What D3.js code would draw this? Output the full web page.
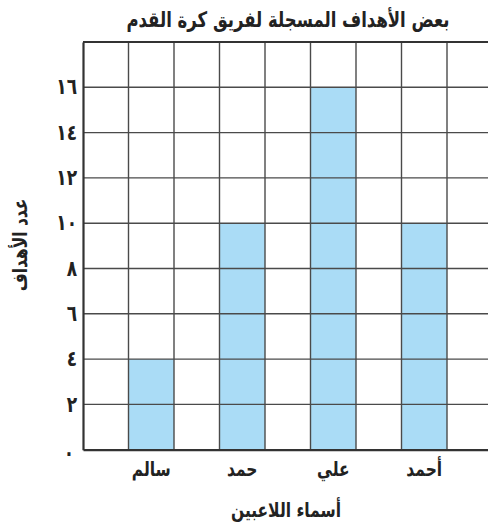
<!DOCTYPE html>
<html><head><meta charset="utf-8">
<script src="https://cdn.jsdelivr.net/npm/d3@7"></script>
<style>body{margin:0;background:#fff;} svg{display:block;}</style>
</head><body>
<svg id="c" width="488" height="532"></svg>
<script>
const players = ["سالم", "حمد", "علي", "أحمد"];
const goals = [4, 10, 16, 10];
const yTicks = [0, 2, 4, 6, 8, 10, 12, 14, 16];
const yTickLabels = ["٠", "٢", "٤", "٦", "٨", "١٠", "١٢", "١٤", "١٦"];
const chartTitle = "بعض الأهداف المسجلة لفريق كرة القدم";
const xTitle = "أسماء اللاعبين";
const yTitle = "عدد الأهداف";

(function () {
const svg = d3.select("#c");
const L = 83, R = 492.5, T = 42, B = 449.7;
const font = "'DejaVu Sans', sans-serif";
const S = 1.3; // vertical stretch of glyphs

const x = d3.scaleBand().domain(players).range([L, R]).paddingInner(0.5).paddingOuter(0.5);
const y = d3.scaleLinear().domain([0, 18]).range([B, T]);
const gridX = d3.scaleLinear().domain([0, 9]).range([L, R]);

const g = svg.append("g");
g.selectAll("rect.bar").data(players).enter().append("rect")
  .attr("class", "bar")
  .attr("x", d => x(d))
  .attr("width", x.bandwidth())
  .attr("y", (d, i) => y(goals[i]))
  .attr("height", (d, i) => y(0) - y(goals[i]))
  .attr("fill", "#aadcf6");

g.selectAll("line.h").data(d3.range(2, 18, 2)).enter().append("line")
  .attr("x1", L).attr("x2", R)
  .attr("y1", d => y(d)).attr("y2", d => y(d))
  .attr("stroke", "#4a4a4a").attr("stroke-width", 1.4);
g.selectAll("line.v").data(d3.range(1, 10)).enter().append("line")
  .attr("x1", d => gridX(d)).attr("x2", d => gridX(d))
  .attr("y1", T).attr("y2", B)
  .attr("stroke", "#4a4a4a").attr("stroke-width", 1.4);
g.append("line").attr("x1", L).attr("x2", R).attr("y1", T).attr("y2", T)
  .attr("stroke", "#333").attr("stroke-width", 2);

const xAxis = d3.axisBottom(x).tickSize(0).tickPadding(0);
const xa = svg.append("g").attr("transform", `translate(0,${B})`).call(xAxis);
xa.select(".domain").attr("stroke", "#333").attr("stroke-width", 2.2);
xa.selectAll("text").attr("font-family", font).attr("font-size", 15.5).attr("font-weight", "bold").attr("fill", "#222")
  .attr("y", 0).attr("dy", 0).attr("transform", `translate(0,26) scale(1,${S})`);

const yAxis = d3.axisLeft(y).tickValues(yTicks).tickSize(0).tickPadding(7)
  .tickFormat((d, i) => yTickLabels[i]);
const ya = svg.append("g").attr("transform", `translate(${L},0)`).call(yAxis);
ya.select(".domain").attr("stroke", "#333").attr("stroke-width", 2.2);
ya.selectAll("text").attr("font-family", font).attr("font-size", 17).attr("font-weight", "bold").attr("fill", "#222")
  .attr("x", -6).attr("y", 0).attr("dy", "0.3em").attr("transform", `scale(1,${S})`);
ya.selectAll(".tick").filter(d => d === 0).select("text")
  .attr("x", -9).attr("dy", "0.45em");

svg.append("text").attr("text-anchor", "middle")
  .attr("transform", `translate(288,27) scale(1,${S})`)
  .attr("font-family", font).attr("font-size", 16.5).attr("font-weight", "bold").attr("fill", "#222")
  .text(chartTitle);
svg.append("text").attr("text-anchor", "middle")
  .attr("transform", `translate(286,517) scale(1,${S})`)
  .attr("font-family", font).attr("font-size", 15.5).attr("font-weight", "bold").attr("fill", "#222")
  .text(xTitle);
svg.append("text").attr("transform", `translate(27,245) rotate(-90) scale(1,${S})`).attr("text-anchor", "middle")
  .attr("font-family", font).attr("font-size", 15.5).attr("font-weight", "bold").attr("fill", "#222")
  .text(yTitle);
})();
</script>
</body></html>
